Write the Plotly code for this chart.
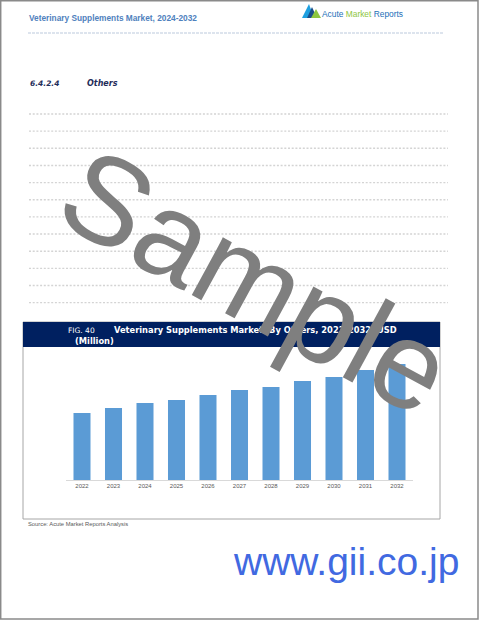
import plotly.graph_objects as go

W, H = 480, 621

# chart data (USD million)
years = ['2022', '2023', '2024', '2025', '2026', '2027', '2028', '2029', '2030', '2031', '2032']
market_values = [67, 72, 77, 80, 85, 90, 93, 99, 103, 110, 116]

page_title = 'Veterinary Supplements Market, 2024-2032'
section_no = '6.4.2.4'
section_name = 'Others'
fig_label = 'FIG. 40'
fig_title = 'Veterinary Supplements Market, By Others, 2022-2032, USD'
fig_title2 = '(Million)'
source_text = 'Source: Acute Market Reports Analysis'


def px(x):
    return x / W


def py(y):
    return 1 - y / H


fig = go.Figure()

fig.add_trace(go.Bar(
    x=years,
    y=market_values,
    marker=dict(color='#5b9bd5', line=dict(width=0)),
    width=0.54,
    hoverinfo='x+y',
    showlegend=False
))

shapes = []
annotations = []

# page border
shapes.append(dict(type='rect', xref='paper', yref='paper',
                   x0=px(0.7), x1=px(478), y0=py(0.7), y1=py(619),
                   line=dict(color='#8a8a8a', width=1.5)))

# header dashed rule
shapes.append(dict(type='line', xref='paper', yref='paper',
                   x0=px(28), x1=px(443), y0=py(33), y1=py(33),
                   line=dict(color='#a9bbd3', width=0.8, dash='3px,1px')))

# dotted placeholder text lines
for i in range(12):
    y = 114 + i * 17.15
    shapes.append(dict(type='line', xref='paper', yref='paper',
                       x0=px(29), x1=px(448), y0=py(y), y1=py(y),
                       line=dict(color='#d4d4d4', width=1.4, dash='2px,1.7px')))

# figure box + navy header
shapes.append(dict(type='rect', xref='paper', yref='paper',
                   x0=px(23), x1=px(440), y0=py(322), y1=py(519),
                   line=dict(color='#a6a6a6', width=1), fillcolor='white', layer='below'))
shapes.append(dict(type='rect', xref='paper', yref='paper',
                   x0=px(23), x1=px(440), y0=py(322), y1=py(347),
                   line=dict(width=0), fillcolor='#002060', layer='below'))

# logo triangles
def tri(points, color):
    path = 'M ' + ' L '.join(f'{px(a)} {py(b)}' for a, b in points) + ' Z'
    shapes.append(dict(type='path', xref='paper', yref='paper', path=path,
                       fillcolor=color, line=dict(width=0)))

tri([(302, 18), (309, 4), (314, 18)], '#1ea0e0')
tri([(307, 18), (312, 7), (317, 18)], '#1b4f8a')
tri([(311, 18), (316, 9), (321, 18)], '#8dc63f')

# header texts
annotations.append(dict(x=px(27), y=py(18), xref='paper', yref='paper',
                        xanchor='left', yanchor='middle', showarrow=False,
                        text=f'<b>{page_title}</b>',
                        font=dict(family='Liberation Sans', size=8.3, color='#4f81bd')))
annotations.append(dict(x=px(320), y=py(14), xref='paper', yref='paper',
                        xanchor='left', yanchor='middle', showarrow=False,
                        text="<span style='color:#1b6fb8'>Acute</span> "
                             "<span style='color:#8dc63f'>Market</span> "
                             "<span style='color:#1b6fb8'>Reports</span>",
                        font=dict(family='Liberation Sans', size=8.4)))
annotations.append(dict(x=px(28), y=py(84), xref='paper', yref='paper',
                        xanchor='left', yanchor='middle', showarrow=False,
                        text=f'<b><i>{section_no}</i></b>',
                        font=dict(family='DejaVu Sans', size=7.5, color='#1f2d5a')))
annotations.append(dict(x=px(85), y=py(84), xref='paper', yref='paper',
                        xanchor='left', yanchor='middle', showarrow=False,
                        text=f'<b><i>{section_name}</i></b>',
                        font=dict(family='DejaVu Sans', size=8, color='#1f2d5a')))

# figure title
annotations.append(dict(x=px(66), y=py(330), xref='paper', yref='paper',
                        xanchor='left', yanchor='middle', showarrow=False,
                        text=fig_label,
                        font=dict(family='DejaVu Sans', size=7.5, color='white')))
annotations.append(dict(x=px(112), y=py(330), xref='paper', yref='paper',
                        xanchor='left', yanchor='middle', showarrow=False,
                        text=f'<b>{fig_title}</b>',
                        font=dict(family='DejaVu Sans', size=8.3, color='white')))
annotations.append(dict(x=px(73), y=py(341), xref='paper', yref='paper',
                        xanchor='left', yanchor='middle', showarrow=False,
                        text=f'<b>{fig_title2}</b>',
                        font=dict(family='DejaVu Sans', size=8.3, color='white')))

# source
annotations.append(dict(x=px(26), y=py(524), xref='paper', yref='paper',
                        xanchor='left', yanchor='middle', showarrow=False,
                        text=source_text,
                        font=dict(family='Liberation Sans', size=5.8, color='#595959')))

# watermark
annotations.append(dict(x=px(256), y=py(281), xref='paper', yref='paper',
                        xanchor='center', yanchor='middle', showarrow=False,
                        text='Sample', textangle=28.5,
                        font=dict(family='Liberation Sans', size=124, color='#7f7f7f')))

# site url
annotations.append(dict(x=px(346), y=py(561), xref='paper', yref='paper',
                        xanchor='center', yanchor='middle', showarrow=False,
                        text='www.gii.co.jp',
                        font=dict(family='Liberation Sans', size=39, color='#4169e1')))

fig.update_layout(
    width=W, height=H,
    margin=dict(l=0, r=0, t=0, b=0),
    paper_bgcolor='white',
    plot_bgcolor='rgba(0,0,0,0)',
    shapes=shapes,
    annotations=annotations,
    xaxis=dict(
        domain=[px(66.25), px(412.75)],
        type='category',
        showline=True, linecolor='#d9d9d9', linewidth=1,
        showgrid=False, zeroline=False, ticks='',
        tickfont=dict(family='Liberation Sans', size=6, color='#595959'),
    ),
    yaxis=dict(
        domain=[py(480), py(350)],
        range=[0, 130],
        visible=False,
        showgrid=False, zeroline=False,
    ),
)

fig.write_html('out.html', config={'displayModeBar': False},
               post_script="document.body.style.margin='0';")
